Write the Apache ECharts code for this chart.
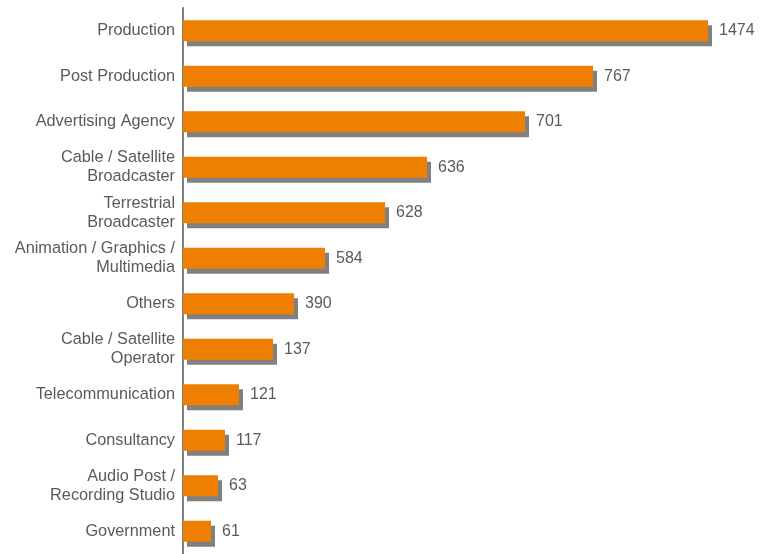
<!DOCTYPE html>
<html>
<head>
<meta charset="utf-8">
<script src="https://cdn.jsdelivr.net/npm/echarts@6/dist/echarts.min.js"></script>
<style>
  html, body { margin: 0; padding: 0; background: #ffffff; }
  #chart { width: 768px; height: 554px; }
</style>
</head>
<body>
<div id="chart"></div>
<script>
// Categories (top to bottom)
const categories = [
  'Production',
  'Post Production',
  'Advertising Agency',
  'Cable / Satellite\nBroadcaster',
  'Terrestrial\nBroadcaster',
  'Animation / Graphics /\nMultimedia',
  'Others',
  'Cable / Satellite\nOperator',
  'Telecommunication',
  'Consultancy',
  'Audio Post /\nRecording Studio',
  'Government'
];
// Printed value labels
const counts = [1474, 767, 701, 636, 628, 584, 390, 137, 121, 117, 63, 61];
// Bar lengths as drawn in the reference (the original bars are not proportional to the printed values)
const barLengths = [525, 410, 342, 244, 202, 142, 111, 90, 56, 42, 35, 28];

const chart = echarts.init(document.getElementById('chart'), null, { renderer: 'canvas' });
const font = '"Liberation Sans", Arial, Helvetica, sans-serif';

chart.setOption({
  animation: false,
  backgroundColor: '#ffffff',
  grid: { left: 183, right: 0, top: 8, bottom: 0, containLabel: false },
  xAxis: {
    type: 'value',
    min: 0,
    max: 585,
    show: false
  },
  yAxis: {
    type: 'category',
    inverse: true,
    data: categories,
    axisLine: { show: true, lineStyle: { color: '#808080', width: 2 } },
    axisTick: { show: false },
    splitLine: { show: false },
    axisLabel: {
      margin: 8,
      color: '#5a5a5a',
      fontSize: 16.3,
      fontFamily: font,
      lineHeight: 19,
      align: 'right'
    }
  },
  series: [{
    type: 'bar',
    data: barLengths,
    barWidth: 21,
    itemStyle: {
      color: '#EE7F00',
      shadowColor: '#808080',
      shadowBlur: 0,
      shadowOffsetX: 4,
      shadowOffsetY: 5
    },
    label: {
      show: true,
      position: 'right',
      distance: 11,
      color: '#5a5a5a',
      fontSize: 16,
      fontFamily: font,
      formatter: p => String(counts[p.dataIndex])
    }
  }]
});
</script>
</body>
</html>
